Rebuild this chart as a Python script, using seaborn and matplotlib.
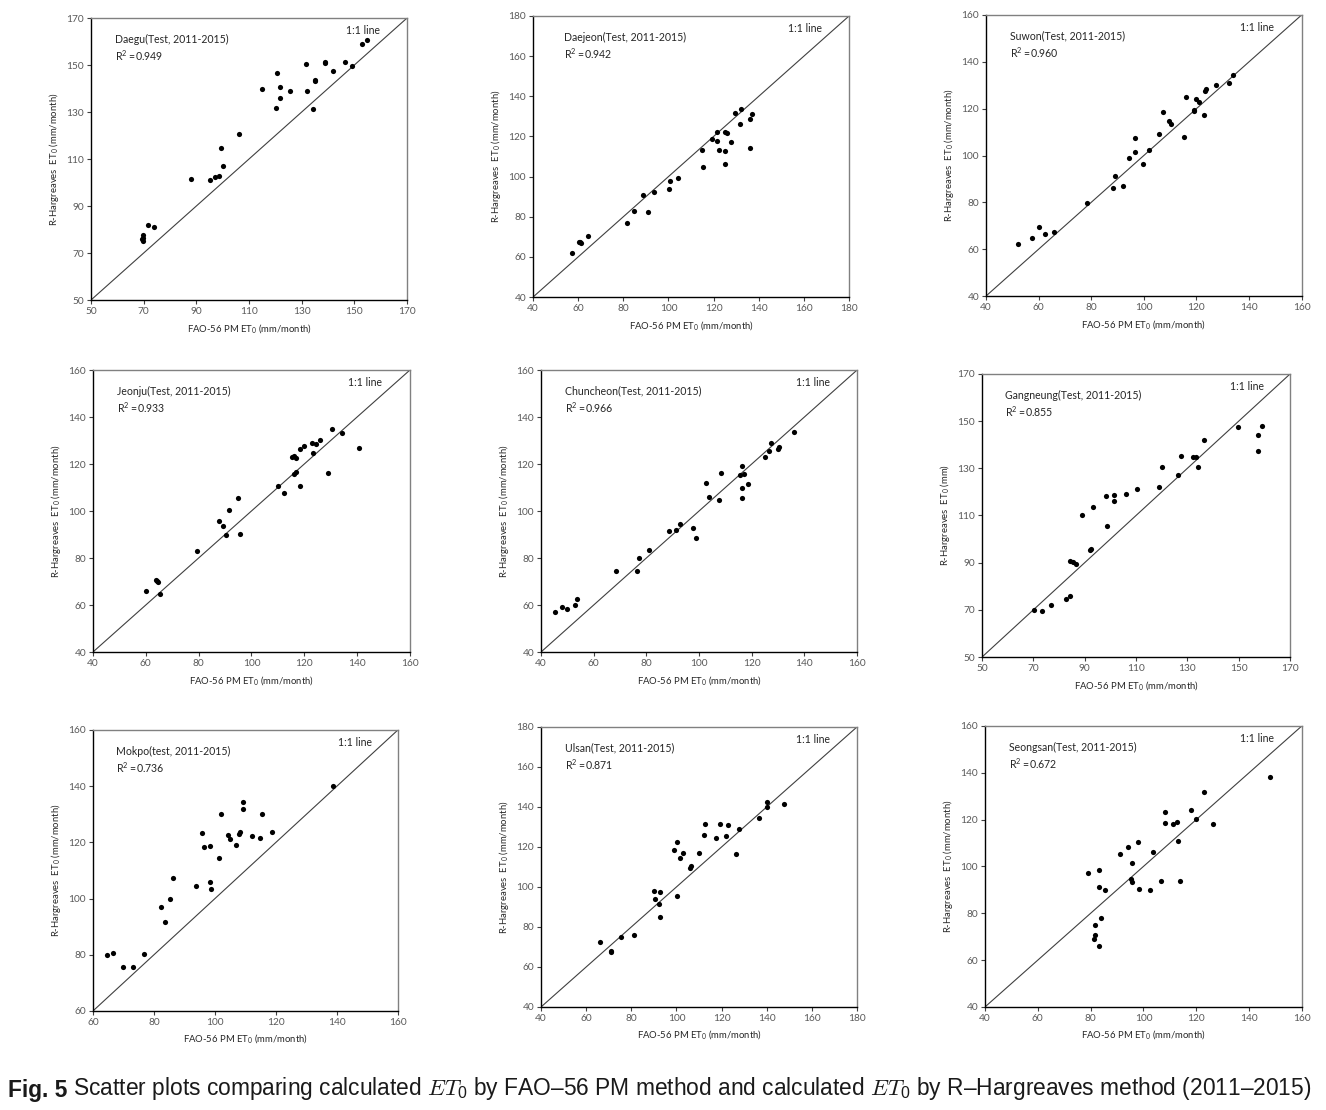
import matplotlib
matplotlib.use("Agg")
import matplotlib.pyplot as plt
import seaborn as sns
import pandas as pd

# FAO-56 PM ET0 (x) vs R-Hargreaves ET0 (y), mm/month
daegu_fao = [152.9, 154.9, 131.6, 139.0, 139.0, 146.3, 149.1, 142.0, 120.8, 134.9, 134.9, 114.8, 121.6, 121.9, 125.6,
             132.0, 120.4, 134.3, 106.1, 99.4, 100.0, 88.0, 95.2, 97.2, 98.5, 71.6, 73.9, 69.9, 69.6, 69.9, 69.4]
daegu_rh = [159.1, 160.8, 150.4, 151.3, 150.8, 151.5, 149.5, 147.6, 146.6, 143.7, 143.3, 139.7, 140.5, 135.9, 138.8,
            139.0, 131.8, 131.1, 120.7, 114.9, 107.2, 101.7, 101.1, 102.4, 102.8, 82.1, 81.1, 77.5, 76.4, 75.3, 75.8]

daejeon_fao = [132.2, 129.4, 137.2, 135.9, 131.6, 121.7, 124.9, 125.9, 119.2, 121.7, 127.6, 114.7, 122.4, 125.2, 136.1,
               125.1, 115.5, 104.2, 100.7, 100.4, 93.5, 88.7, 84.9, 90.8, 81.8, 64.4, 60.8, 61.2, 60.4, 57.1]
daejeon_rh = [133.6, 131.6, 131.2, 128.6, 126.3, 122.3, 122.3, 121.8, 118.5, 117.8, 117.0, 113.2, 113.2, 112.7, 114.3,
              106.2, 104.7, 99.4, 97.7, 93.9, 92.4, 90.9, 83.1, 82.6, 77.0, 70.4, 67.4, 66.9, 67.2, 61.7]

suwon_fao = [134.1, 132.4, 127.6, 123.5, 123.3, 116.2, 119.7, 121.1, 118.9, 118.9, 122.9, 107.4, 109.4, 110.3, 105.6,
             96.6, 115.3, 96.6, 102.1, 94.4, 99.8, 89.2, 88.4, 91.9, 78.4, 60.3, 57.5, 62.6, 65.9, 52.2]
suwon_rh = [134.4, 131.0, 130.2, 128.5, 127.7, 125.1, 124.0, 123.0, 118.9, 119.4, 117.2, 118.4, 114.9, 113.5, 109.2,
            107.6, 107.9, 101.6, 102.3, 98.9, 96.4, 91.4, 86.1, 86.8, 79.7, 69.3, 64.6, 66.3, 67.3, 62.3]

jeonju_fao = [130.7, 134.4, 140.8, 126.1, 124.6, 123.1, 123.4, 120.1, 118.4, 115.2, 116.0, 116.8, 116.8, 116.2, 110.0,
              118.4, 112.3, 128.9, 95.1, 91.7, 87.6, 89.3, 90.3, 95.5, 79.4, 63.7, 64.3, 64.6, 60.2, 65.5]
jeonju_rh = [134.9, 133.3, 126.7, 130.2, 128.5, 128.9, 124.5, 127.7, 126.4, 123.0, 123.4, 122.6, 116.6, 115.9, 110.8,
             110.5, 107.5, 116.0, 105.7, 100.3, 95.7, 93.5, 89.9, 90.2, 83.0, 70.8, 70.4, 69.9, 65.8, 64.5]

chuncheon_fao = [136.2, 127.2, 126.6, 130.4, 130.1, 125.1, 116.5, 115.7, 117.2, 108.4, 102.5, 118.5, 116.2, 103.9, 116.5,
                 107.6, 92.9, 91.4, 88.7, 97.7, 98.7, 80.9, 77.2, 68.6, 76.3, 53.5, 53.0, 48.0, 50.0, 45.4]
chuncheon_rh = [133.8, 128.8, 125.5, 127.2, 126.2, 122.8, 119.3, 115.5, 115.9, 116.3, 111.8, 111.7, 109.8, 105.8, 105.4,
                104.8, 94.3, 91.9, 91.3, 92.6, 88.4, 83.4, 79.9, 74.6, 74.6, 62.4, 60.0, 59.1, 58.2, 56.9]

gangneung_fao = [149.6, 159.2, 157.6, 157.6, 136.5, 127.7, 132.0, 133.5, 134.0, 126.5, 120.3, 118.9, 110.5, 106.2, 101.6,
                 98.4, 101.6, 93.4, 89.1, 98.6, 92.4, 92.1, 84.1, 85.5, 86.5, 84.3, 82.8, 76.9, 73.4, 70.2]
gangneung_rh = [147.4, 147.9, 144.2, 137.5, 142.0, 135.3, 134.9, 134.6, 130.4, 127.0, 130.4, 122.0, 121.3, 119.2, 118.5,
                118.2, 116.3, 113.7, 110.1, 105.7, 95.9, 95.2, 90.5, 90.2, 89.5, 76.0, 74.6, 72.2, 69.5, 70.1]

mokpo_fao = [138.6, 109.2, 109.2, 102.0, 115.4, 95.6, 104.3, 104.8, 107.8, 108.2, 112.2, 114.8, 118.7, 96.3, 98.4,
             106.9, 101.2, 86.1, 93.9, 98.4, 98.6, 85.1, 82.4, 83.6, 64.6, 66.5, 69.7, 73.1, 76.7]
mokpo_rh = [140.1, 134.5, 132.0, 130.2, 130.0, 123.2, 122.7, 121.3, 122.9, 123.6, 122.1, 121.5, 123.6, 118.2, 118.8,
            119.2, 114.5, 107.3, 104.6, 105.9, 103.4, 100.0, 97.1, 91.6, 79.9, 80.5, 75.8, 75.8, 80.3]

ulsan_fao = [147.5, 140.0, 140.3, 136.6, 127.6, 122.1, 117.6, 112.4, 112.5, 119.2, 122.7, 126.2, 110.0, 100.1, 98.9,
             103.1, 101.7, 106.6, 106.2, 90.1, 92.6, 90.5, 100.1, 92.1, 92.6, 81.1, 75.6, 66.1, 70.9, 71.0]
ulsan_rh = [141.6, 142.4, 139.8, 134.4, 128.8, 125.5, 124.6, 126.1, 131.4, 131.4, 130.8, 116.3, 117.2, 122.5, 118.3,
            117.2, 114.5, 110.7, 109.7, 97.9, 97.4, 94.0, 95.7, 91.4, 84.9, 76.1, 74.8, 72.4, 67.8, 67.4]

seongsan_fao = [148.1, 123.0, 117.9, 108.0, 120.1, 108.3, 112.8, 111.1, 126.5, 113.0, 98.1, 94.3, 103.8, 91.0, 95.7,
                83.2, 79.2, 95.4, 95.7, 106.7, 113.9, 83.2, 85.6, 98.2, 102.4, 84.1, 81.6, 81.8, 81.4, 83.3]
seongsan_rh = [138.2, 131.8, 124.1, 123.3, 120.1, 118.5, 119.0, 118.1, 118.2, 110.7, 110.5, 108.3, 106.1, 105.3, 101.3,
               98.3, 97.2, 94.8, 93.2, 93.8, 93.8, 91.1, 89.9, 90.2, 89.9, 77.9, 74.9, 70.6, 68.9, 65.9]

stations = ["Daegu", "Daejeon", "Suwon", "Jeonju", "Chuncheon", "Gangneung", "Mokpo", "Ulsan", "Seongsan"]
test_words = ["Test", "Test", "Test", "Test", "Test", "Test", "test", "Test", "Test"]
r2_values = ["0.949", "0.942", "0.960", "0.933", "0.966", "0.855", "0.736", "0.871", "0.672"]
axis_min = [50, 40, 40, 40, 40, 50, 60, 40, 40]
axis_max = [170, 180, 160, 160, 160, 170, 160, 180, 160]
axis_step = [20, 20, 20, 20, 20, 20, 20, 20, 20]
y_units = ["mm/month"] * 5 + ["mm"] + ["mm/month"] * 3

fao_data = [daegu_fao, daejeon_fao, suwon_fao, jeonju_fao, chuncheon_fao, gangneung_fao, mokpo_fao, ulsan_fao, seongsan_fao]
rh_data = [daegu_rh, daejeon_rh, suwon_rh, jeonju_rh, chuncheon_rh, gangneung_rh, mokpo_rh, ulsan_rh, seongsan_rh]

# axes rectangles in figure fraction
rects = [
    [0.0686, 0.7297, 0.2383, 0.2540],
    [0.4020, 0.7324, 0.2383, 0.2532],
    [0.7436, 0.7333, 0.2380, 0.2532],
    [0.0701, 0.4126, 0.2390, 0.2540],
    [0.4080, 0.4126, 0.2383, 0.2540],
    [0.7406, 0.4081, 0.2323, 0.2550],
    [0.0701, 0.0892, 0.2300, 0.2532],
    [0.4080, 0.0928, 0.2383, 0.2523],
    [0.7428, 0.0928, 0.2390, 0.2532],
]
label_x = [0.075, 0.098, 0.075, 0.075, 0.075, 0.075, 0.075, 0.075, 0.075]

sns.set_style("white")
plt.rcParams['font.family'] = ['Lato', 'DejaVu Sans']
plt.rcParams['mathtext.default'] = 'regular'
plt.rcParams['mathtext.fontset'] = 'cm'

fig = plt.figure(figsize=(13.26, 11.10), dpi=100)

for i, name in enumerate(stations):
    ax = fig.add_axes(rects[i])
    df = pd.DataFrame({"fao": fao_data[i], "rh": rh_data[i]})
    lo, hi = axis_min[i], axis_max[i]
    ax.plot([lo, hi], [lo, hi], color="#404040", lw=0.8, zorder=1)
    sns.scatterplot(data=df, x="fao", y="rh", ax=ax, color="black", s=14,
                    edgecolor="black", linewidth=0, zorder=3)
    ax.set_xlim(lo, hi)
    ax.set_ylim(lo, hi)
    ticks = list(range(lo, hi + 1, axis_step[i]))
    ax.set_xticks(ticks)
    ax.set_yticks(ticks)
    ax.tick_params(axis="both", direction="out", length=3, width=0.8, labelsize=7.3,
                   labelcolor="#595959", color="#404040", pad=2,
                   bottom=True, left=True)
    for side in ["left", "bottom"]:
        ax.spines[side].set_color("black")
        ax.spines[side].set_linewidth(1.0)
    for side in ["top", "right"]:
        ax.spines[side].set_color("#808080")
        ax.spines[side].set_linewidth(1.0)
    ax.set_xlabel(r"FAO-56 PM ET$_0$ (mm/month)", fontsize=6.8, color="#262626", labelpad=4)
    ax.set_ylabel(r"R-Hargreaves  ET$_0$ (" + y_units[i] + ")", fontsize=6.8, color="#262626", labelpad=4)
    ax.text(label_x[i], 0.925, name + "(" + test_words[i] + ", 2011-2015)", transform=ax.transAxes,
            fontsize=7.6, color="#262626", va="center", ha="left")
    ax.text(label_x[i], 0.865, r"R$^2$ =" + r2_values[i], transform=ax.transAxes,
            fontsize=7.6, color="#262626", va="center", ha="left")
    ax.text(0.86, 0.955, "1:1 line", transform=ax.transAxes,
            fontsize=7.6, color="#262626", va="center", ha="center")

cap_ax = fig.axes[0]
t1 = fig.text(0.006, 0.012, "Fig. 5", fontsize=16.4, fontweight="bold", color="#1a1a1a",
              family=['Liberation Sans', 'DejaVu Sans'])
cap_ax.annotate(r" Scatter plots comparing calculated $\mathit{ET}_0$ by FAO–56 PM method and calculated "
                r"$\mathit{ET}_0$ by R–Hargreaves method (2011–2015)",
                xy=(1, 0), xycoords=t1, va="bottom", ha="left", fontsize=16.4, color="#1a1a1a",
                family=['Liberation Sans', 'DejaVu Sans'],
                annotation_clip=False)

fig.savefig("out.png", dpi=100)
